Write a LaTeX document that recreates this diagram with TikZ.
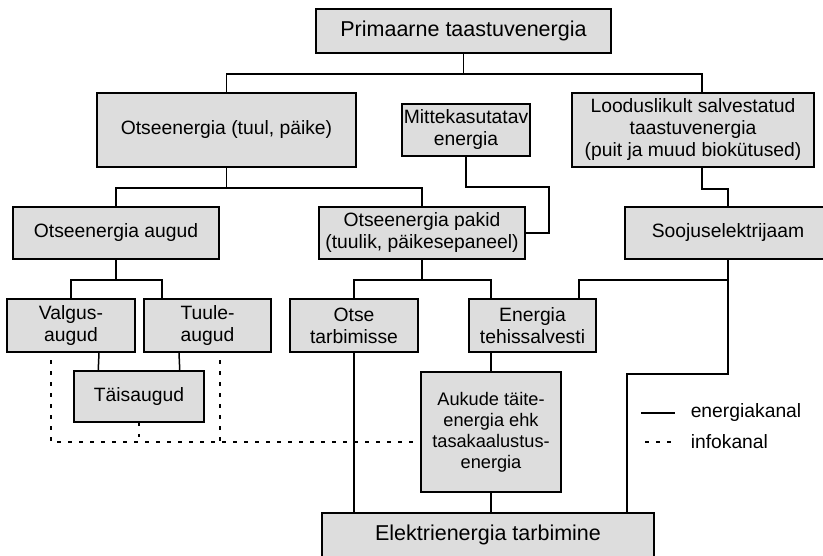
\documentclass[tikz,border=0pt]{standalone}
\usepackage{fontspec}
\setmainfont{Liberation Sans}
\usepackage{xcolor}
\usepackage{tikz}
\usetikzlibrary{calc}

\definecolor{boxgray}{RGB}{221,221,221}

\begin{document}
\begin{tikzpicture}[x=1pt, y=-1pt, line width=1.5pt,
    box/.style={draw, fill=boxgray, align=center, inner sep=0pt,
        font=\fontsize{19.3}{22}\selectfont},
    bigbox/.style={box, font=\fontsize{21.5}{24}\selectfont},
    info/.style={line width=1.5pt, dash pattern=on 3.5pt off 7.5pt},
    legend/.style={anchor=west, inner sep=0pt, font=\fontsize{19.3}{22}\selectfont}]

    \useasboundingbox (0,0) rectangle (823,555);
    \clip (0,0) rectangle (823,555);

    % Kastid
    \node[bigbox, minimum width=295, minimum height=44] (prim) at (463.5,31) {Primaarne taastuvenergia};
    \node[box, minimum width=259, minimum height=74] (otse) at (226.5,130) {Otseenergia (tuul, päike)};
    \node[box, minimum width=128, minimum height=52] (mitte) at (466,130) {Mittekasutatav\\energia};
    \node[box, minimum width=242, minimum height=74] (lood) at (693,130) {Looduslikult salvestatud\\taastuvenergia\\(puit ja muud biokütused)};
    \node[box, minimum width=206, minimum height=52] (augud) at (116,233) {Otseenergia augud};
    \node[box, minimum width=206, minimum height=52] (pakid) at (422,233) {Otseenergia pakid\\(tuulik, päikesepaneel)};
    \node[box, minimum width=206, minimum height=52] (sooj) at (728,233) {Soojuselektrijaam};
    \node[box, minimum width=128, minimum height=53] (valgus) at (71,325.5) {Valgus-\\augud};
    \node[box, minimum width=127, minimum height=53] (tuule) at (207.5,325.5) {Tuule-\\augud};
    \node[box, minimum width=128, minimum height=53] (tarb) at (354,325.5) {Otse\\tarbimisse};
    \node[box, minimum width=127, minimum height=53] (salv) at (532.5,325.5) {Energia\\tehissalvesti};
    \node[box, minimum width=130, minimum height=51] (tais) at (139,396.5) {Täisaugud};
    \node[box, minimum width=140, minimum height=120, font=\fontsize{18.2}{21}\selectfont] (auk) at (491,432) {Aukude täite-\\energia ehk\\tasakaalustus-\\energia};
    \node[bigbox, minimum width=332, minimum height=44] (elek) at (488,535) {Elektrienergia tarbimine};

    % Energiakanalid
    \draw (prim.south) -- ++(0,20) -| (otse.north);
    \draw (prim.south) -- ++(0,20) -| ($(lood.north)+(9,0)$);
    \draw (otse.south) -- ++(0,20) -| (augud.north);
    \draw (otse.south) -- ++(0,20) -| (pakid.north);
    \draw (mitte.south) -- ++(0,30) -- ++(83,0) |- (pakid.east);
    \draw ($(lood.south)+(9,0)$) -- ++(0,21) -| (sooj.north);
    \draw (augud.south) -- ++(0,20) -| (valgus.north);
    \draw (augud.south) -- ++(0,20) -| ($(tuule.north)+(-45.5,0)$);
    \draw ($(valgus.south)+(28,0)$) -- ($(tais.north west)+(25,0)$);
    \draw ($(tuule.south)+(-28.5,0)$) -- ($(tais.north east)+(-25,0)$);
    \draw (pakid.south) -- ++(0,20) -| (tarb.north);
    \draw (pakid.south) -- ++(0,20) -| ($(salv.north)+(-41.5,0)$);
    \draw (sooj.south) -- ++(0,20) -| ($(salv.north)+(46.5,0)$);
    \draw (sooj.south) -- ++(0,114) -| ($(elek.north)+(139,0)$);
    \draw ($(salv.south)+(-41.5,0)$) -- (auk.north);
    \draw (tarb.south) -- (tarb.south |- elek.north);
    \draw (auk.south) -- (auk.south |- elek.north);

    % Infokanalid
    \coordinate (vl) at (51,360);
    \coordinate (vr) at (220,360);
    \coordinate (hl) at ($(auk.west)+(0,10)$);
    \draw[info] (vl) |- (hl);
    \draw[info] (vr) -- (vr |- hl);
    \draw[info] (tais.south) -- (tais.south |- hl);

    % Legend
    \node[legend] (lgen) at (690,413) {energiakanal};
    \node[legend] (lgin) at (690,442) {infokanal};
    \coordinate (en) at (641,413);
    \coordinate (in) at (645,442);
    \draw (en) -- ($(lgen.west)+(-15,0)$);
    \draw[info] (in) -- ($(lgin.west)+(-15,0)$);

\end{tikzpicture}
\end{document}
